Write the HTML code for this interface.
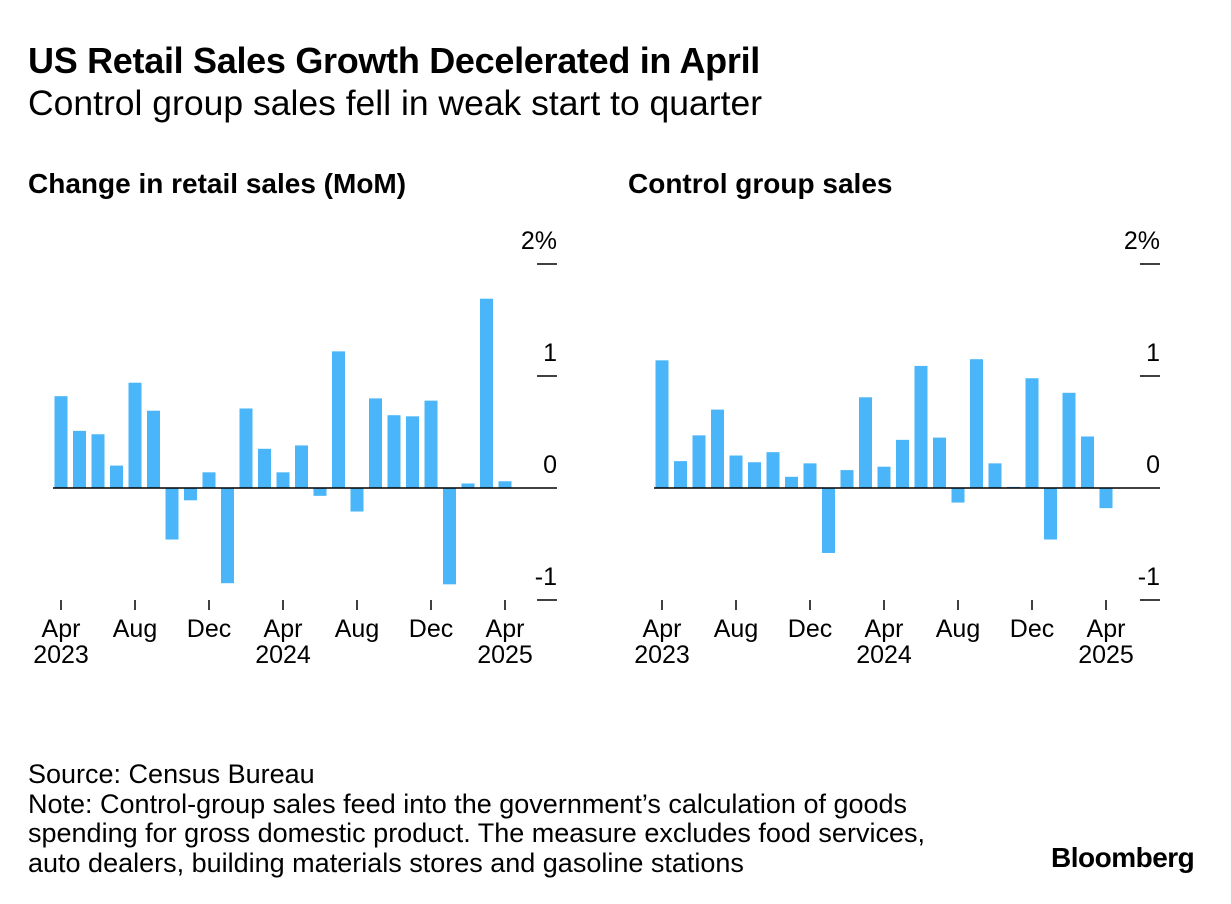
<!DOCTYPE html>
<html><head><meta charset="utf-8">
<style>
body{margin:0;width:1231px;height:904px;background:#fff;font-family:"Liberation Sans",Arial,sans-serif;color:#000;overflow:hidden;position:relative}
.t{position:absolute;white-space:nowrap}
</style></head><body>
<div class="t" style="left:28px;top:40px;font-size:36px;font-weight:bold;letter-spacing:-0.3px">US Retail Sales Growth Decelerated in April</div>
<div class="t" style="left:28px;top:83px;font-size:35.5px">Control group sales fell in weak start to quarter</div>
<div class="t" style="left:28px;top:168px;font-size:28px;font-weight:bold">Change in retail sales (MoM)</div>
<div class="t" style="left:628px;top:168px;font-size:28px;font-weight:bold">Control group sales</div>
<svg id="svg" width="1231" height="904" style="position:absolute;left:0;top:0"></svg>
<div class="t" style="left:28px;top:760px;font-size:27px;line-height:29.5px">Source: Census Bureau<br>Note: Control-group sales feed into the government’s calculation of goods<br>spending for gross domestic product. The measure excludes food services,<br>auto dealers, building materials stores and gasoline stations</div>
<div class="t" style="left:1051px;top:842px;font-size:28px;font-weight:bold;letter-spacing:-0.5px">Bloomberg</div>
<script>
const months=["Apr23","May23","Jun23","Jul23","Aug23","Sep23","Oct23","Nov23","Dec23","Jan24","Feb24","Mar24","Apr24","May24","Jun24","Jul24","Aug24","Sep24","Oct24","Nov24","Dec24","Jan25","Feb25","Mar25","Apr25"];
const retailValues=[0.82,0.51,0.48,0.2,0.94,0.69,-0.46,-0.11,0.14,-0.85,0.71,0.35,0.14,0.38,-0.07,1.22,-0.21,0.8,0.65,0.64,0.78,-0.86,0.04,1.69,0.06];
const controlValues=[1.14,0.24,0.47,0.7,0.29,0.23,0.32,0.1,0.22,-0.58,0.16,0.81,0.19,0.43,1.09,0.45,-0.13,1.15,0.22,0.01,0.98,-0.46,0.85,0.46,-0.18];
const yTicks=[2,1,0,-1];
const yTickLabels=["2%","1","0","-1"];
const xTickIdx=[0,4,8,12,16,20,24];
const xTickLabels=[["Apr","2023"],["Aug",""],["Dec",""],["Apr","2024"],["Aug",""],["Dec",""],["Apr","2025"]];
const NS="http://www.w3.org/2000/svg",svg=document.getElementById('svg');
function mk(t,a){const e=document.createElementNS(NS,t);for(const k in a)e.setAttribute(k,a[k]);svg.appendChild(e);return e;}
function panel(vals,x0,axisX,name){
  const step=18.5;
  const xs=i=>x0+i*step, ys=v=>488-v*112;
  vals.forEach((v,i)=>{const r=mk('rect',{x:xs(i)-6.5,y:Math.min(ys(v),488),width:13,height:Math.abs(ys(v)-488),fill:'#4ab6f9'});
    
    });
  const z=mk('line',{x1:x0-8,x2:axisX+20,y1:488,y2:488,stroke:'#000','stroke-width':1.5});
  
  
  yTicks.forEach((t,i)=>{const y=ys(t);
    if(t!==0){const l=mk('line',{x1:axisX,x2:axisX+20,y1:y,y2:y,stroke:'#000','stroke-width':1.5});
      
      }
    const tx=mk('text',{x:axisX+20,y:y-15,'text-anchor':'end','font-size':25,'font-family':'Liberation Sans, sans-serif'});tx.textContent=yTickLabels[i];
    
    });
  xTickIdx.forEach((k,i)=>{const x=xs(k);
    const l=mk('line',{x1:x,x2:x,y1:600,y2:610,stroke:'#000','stroke-width':1.5});
    
    
    xTickLabels[i].forEach((s,j)=>{if(!s)return;const tx=mk('text',{x:x,y:637+j*26,'text-anchor':'middle','font-size':25,'font-family':'Liberation Sans, sans-serif'});tx.textContent=s;
      
      });});
}
panel(retailValues,61,537,'retail');
panel(controlValues,662,1140,'control');
</script>
</body></html>
